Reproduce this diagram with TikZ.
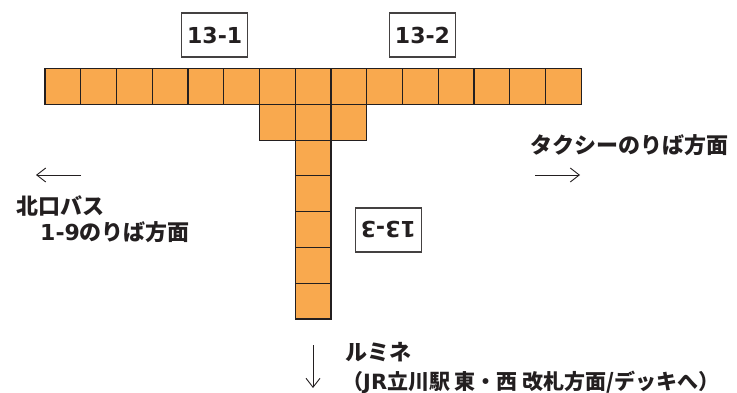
\documentclass[tikz,border=0pt]{standalone}
\usepackage{fontspec}
\setmainfont{Noto Sans CJK JP}
\newfontfamily\lat{DejaVu Sans}
\usetikzlibrary{arrows.meta}
\definecolor{sqfill}{HTML}{F9A94E}
\definecolor{ink}{HTML}{231F20}
\begin{document}
\begin{tikzpicture}[x=1pt,y=-1pt,
 sq/.style={draw=ink, line width=1.1pt, fill=sqfill, minimum size=35.75pt, inner sep=0pt, outer sep=0pt},
 lbl/.style={draw=ink!85, line width=1.4pt, fill=white, minimum width=66pt, minimum height=44pt, inner sep=0pt, font=\lat\bfseries\fontsize{22}{22}\selectfont, text=ink},
 jtxt/.style={anchor=west, inner sep=0pt, font=\bfseries\fontsize{22}{22}\selectfont, text=ink},
 dirarrow/.style={-{Straight Barb[length=9pt,width=14pt]}, line width=0.9pt, draw=ink}]
\useasboundingbox (0,0) rectangle (737,393);
% top row
\foreach \i in {0,...,14}
  \node[sq] (t\i) at ({45+35.75*(\i+0.5)},86.6) {};
% second row
\foreach \i in {6,7,8}
  \node[sq] (m\i) at ({45+35.75*(\i+0.5)},122.4) {};
% column
\foreach \j in {0,...,4}
  \node[sq] (c\j) at (313.1,{140.2+35.75*(\j+0.5)}) {};
% labels
\node[lbl] (l1) at (214.7,35) {13-1};
\node[lbl] (l2) at (422.5,35) {13-2};
\node[lbl, rotate=180] (l3) at (388.3,230) {13-3};
% direction texts
\node[jtxt] (taxi) at (530,145) {タクシーのりば方面};
\node[jtxt] (kita1) at (16,206) {北口バス};
\node[jtxt] (kita2) at (40,232) {{\lat\bfseries 1-9}のりば方面};
\node[jtxt] (lum1) at (345,352) {ルミネ};
\node[jtxt, font=\bfseries\fontsize{21}{21}\selectfont] (lum2) at (342,382) {（{\lat\bfseries JR}立川駅 東・西 改札方面/デッキへ）};
% arrows
\coordinate (la1) at (81,175);
\coordinate (la2) at (36,175);
\coordinate (ra1) at (535,175);
\coordinate (ra2) at (580,175);
\coordinate (da1) at (313,345);
\coordinate (da2) at (313,388);
\draw[dirarrow] (la1) -- (la2);
\draw[dirarrow] (ra1) -- (ra2);
\draw[dirarrow] (da1) -- (da2);
\end{tikzpicture}
\end{document}
